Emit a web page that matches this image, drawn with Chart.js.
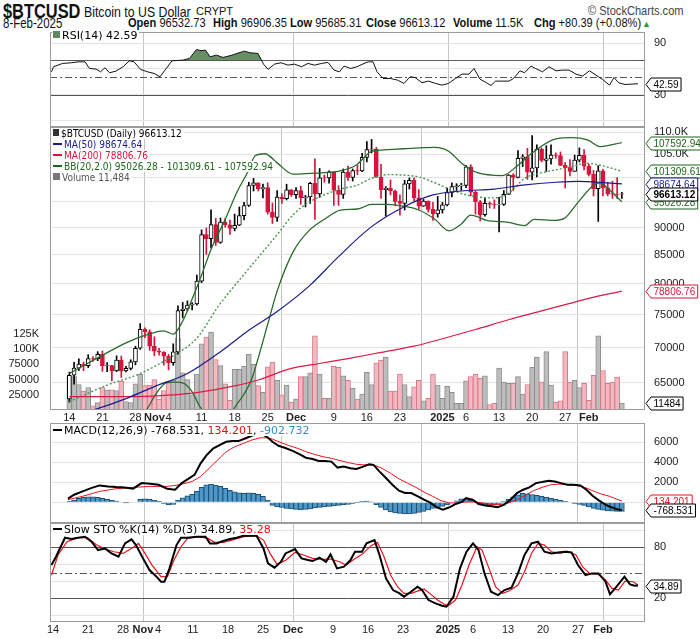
<!DOCTYPE html>
<html>
<head>
<meta charset="utf-8">
<script src="https://cdn.jsdelivr.net/npm/chart.js@4.4.1/dist/chart.umd.min.js"></script>
<style>
body { margin: 0; background: #fff; width: 700px; height: 639px; position: relative; overflow: hidden; }
canvas { position: absolute; left: 0; }
.t { position: absolute; white-space: nowrap; font-family: "Liberation Sans", Arial, sans-serif; color: #111; transform: scaleX(0.82); transform-origin: 0 0; }
.r2 { top: 15px; font-size: 13.5px; }
.lg { position: absolute; left: 52px; white-space: nowrap; font-family: "DejaVu Sans", sans-serif; z-index: 5; }
.lg div { background: #fff; line-height: 11px; height: 11px; padding-right: 2px; width: max-content; }
.dash { display: inline-block; width: 9px; height: 2px; margin: 0 2px 3px 1px; vertical-align: middle; }
</style>
</head>
<body>

<div class="t" style="left:3px;top:0px;font-weight:bold;font-size:20px;">$BTCUSD</div>
<div class="t" style="left:84px;top:3px;font-size:15px;">Bitcoin to US Dollar</div>
<div class="t" style="left:196px;top:5px;font-size:11px;transform:none;">CRYPT</div>
<div class="t" style="left:588px;top:3px;font-size:13.5px;color:#444;">&copy; StockCharts.com</div>
<div class="t r2" style="left:3px;font-size:14px;">8-Feb-2025</div>
<div class="t r2" style="left:128px;"><b>Open</b> 96532.73</div>
<div class="t r2" style="left:213px;"><b>High</b> 96906.35</div>
<div class="t r2" style="left:290px;"><b>Low</b> 95685.31</div>
<div class="t r2" style="left:366px;"><b>Close</b> 96613.12</div>
<div class="t r2" style="left:453px;"><b>Volume</b> 11.5K</div>
<div class="t r2" style="left:534px;"><b>Chg</b> +80.39 (+0.08%)</div>
<div class="t" style="left:642px;top:19px;font-size:9px;color:#2a9a2a;transform:none;">&#9650;</div>

<canvas id="rsi" width="700" height="95" style="top:32px"></canvas>
<canvas id="main" width="700" height="297" style="top:127px"></canvas>
<canvas id="macd" width="700" height="100" style="top:423px"></canvas>
<canvas id="sto" width="700" height="116" style="top:523px"></canvas>

<div class="lg" style="top:30px;font-size:11px;"><div><span class="dash" style="background:#5f8a5f;width:7px;height:7px;"></span>RSI(14) 42.59</div></div>
<div class="lg" style="top:128px;font-size:10px;font-family:'DejaVu Sans Condensed','DejaVu Sans',sans-serif;">
  <div><span class="dash" style="background:#333;width:6px;height:7px;"></span>$BTCUSD (Daily) 96613.12</div>
  <div style="color:#1a1a8c"><span class="dash" style="background:#1a1a8c"></span>MA(50) 98674.64</div>
  <div style="color:#d8143c"><span class="dash" style="background:#d8143c"></span>MA(200) 78806.76</div>
  <div style="color:#1d661d"><span class="dash" style="background:#1d661d"></span>BB(20,2.0) 95026.28 - 101309.61 - 107592.94</div>
  <div style="color:#555"><span class="dash" style="background:#777;width:7px;height:7px;"></span>Volume 11,484</div>
</div>
<div class="lg" style="top:425px;font-size:11px;"><div><span class="dash" style="background:#000"></span>MACD(12,26,9) -768.531, <span style="color:#e01010">134.201</span>, <span style="color:#2f8fc8">-902.732</span></div></div>
<div class="lg" style="top:524px;font-size:11px;"><div><span class="dash" style="background:#000"></span>Slow STO %K(14) %D(3) 34.89, <span style="color:#e01010">35.28</span></div></div>

<script>
// x axis: day number, 0 = 14 Oct 2024 ... 117 = 8 Feb 2025
const dayTicks = [0, 7, 14, 18, 21, 28, 35, 42, 48, 56, 63, 70, 79, 84, 91, 98, 105, 110];
const dayTickLabels = ['14', '21', '28', 'Nov', '4', '11', '18', '25', 'Dec', '9', '16', '23', '2025', '6', '13', '20', '27', 'Feb'];
const monthStarts = [18, 48, 79, 110];

const opens = [62850,66050,67040,67610,67380,68400,68360,69000,67370,67400,
  66650,68180,66640,67000,67920,69900,72720,72340,70200,69480,
  69330,68740,67800,69360,75640,75900,76540,76700,80470,88700,
  87950,90580,87250,91070,90560,89850,90460,92310,94290,98320,
  98900,97690,97900,93000,91940,95960,95650,97460,96450,97280,
  95860,96000,98770,96600,99920,99880,101170,97360,96490,101130,
  100000,101460,101370,104300,106030,106140,100040,97490,97760,97200,
  95100,94680,98670,99400,95800,94160,95160,93530,92640,93430,
  94420,96890,98110,98240,98350,102230,96950,95040,92480,94700,
  94560,94490,94520,96530,100500,99990,104080,104400,101090,102020,
  106140,103650,103960,104820,104710,102580,102080,101300,103700,104730,
  102400,100650,97690,101400,97870,96620,96560,96532.73];
const highs = [66480,67880,68380,67900,68970,68680,69400,69500,67830,67450,
  68800,68750,67300,68230,70200,73600,72960,72660,71600,69900,
  69400,69000,70550,76400,76950,77200,76930,81500,89600,89950,
  93450,91800,91850,91750,91450,92600,94000,94900,99000,99800,
  98900,98600,98900,94800,97300,96600,98600,97500,97900,98200,
  96300,99000,104000,101900,100500,101400,101200,98300,101800,102400,
  101800,102600,105200,107800,108300,106500,102800,98100,99500,97400,
  96400,99400,99900,99900,97500,95500,95200,94900,96100,94900,
  97800,98900,98700,98800,102500,102700,97200,95300,95800,95000,
  95400,95900,97300,100600,100800,105800,104900,106300,109200,107100,
  106400,106900,107100,105300,105500,103200,103800,104800,106400,106000,
  102800,101500,102500,101700,99000,99200,100000,96906.35];
const lows = [62420,64820,66700,66680,67120,68000,68100,66600,66560,65260,
  66540,65750,66520,66800,67500,69730,71450,69600,68800,68900,
  67460,66800,67450,69050,74500,75600,75760,76500,80200,85100,
  86250,86700,87100,90100,88750,89400,90400,91500,94100,97200,
  97200,95800,92600,90800,91200,94700,95400,96100,95700,94500,
  94000,94700,91600,95900,99000,98800,94300,94300,95700,99400,
  99250,100600,101200,103300,105300,100000,95700,92200,96400,94200,
  92400,93400,97600,95200,93500,94100,93000,91400,92000,92800,
  94200,96000,97300,97300,97900,96200,92600,91300,92200,93800,
  93700,89200,94300,96500,97300,99900,102300,99600,99500,100100,
  103300,101300,102800,104100,102500,97800,100300,101300,103300,101600,
  100300,96200,91200,96200,96200,95700,95700,95685.31];
const closes = [66050,67040,67610,67380,68400,68360,69000,67370,67400,66650,
  68180,66640,67000,67920,69900,72720,72340,70200,69480,69330,
  68740,67800,69360,75640,75900,76540,76700,80470,88700,87950,
  90580,87250,91070,90560,89850,90460,92310,94290,98320,98900,
  97690,97900,93000,91940,95960,95650,97460,96450,97280,95860,
  96000,98770,96600,99920,99880,101170,97360,96490,101130,100000,
  101460,101370,104300,106030,106140,100040,97490,97760,97200,95100,
  94680,98670,99400,95800,94160,95160,93530,92640,93430,94420,
  96890,98110,98240,98350,102230,96950,95040,92480,94700,94560,
  94490,94520,96530,100500,99990,104080,104400,101090,102020,106140,
  103650,103960,104820,104710,102580,102080,101300,103700,104730,102400,
  100650,97690,101400,97870,96620,96560,96530,96613.12];
const volumes = [55000,55000,42000,31000,37000,7000,12000,37000,33000,33000,
  32000,47000,14000,12000,43000,59000,40000,41000,50000,18000,
  32000,47000,49000,118000,61000,50000,25000,59000,109000,120000,
  128000,83000,73000,43000,16000,67000,67000,72000,92000,75000,
  40000,29000,71000,79000,49000,25000,41000,13000,18000,55000,
  55000,61000,122000,59000,19000,19000,72000,70000,56000,49000,
  36000,18000,26000,62000,42000,77000,82000,87000,31000,31000,
  59000,42000,22000,38000,49000,15000,19000,59000,41000,19000,
  39000,29000,11000,11000,48000,55000,59000,52000,56000,9000,
  11000,69000,46000,44000,44000,55000,26000,42000,70000,87000,
  46000,96000,41000,13000,15000,96000,46000,49000,37000,44000,
  16000,57000,122000,65000,44000,46000,54000,11484];

// overlays (day, value)
const ma50Days = [0, 5, 12, 18, 25, 32, 38, 44, 51, 57, 64, 71, 77, 83, 90, 96, 103, 108, 112, 117];
const ma50Vals = [60600, 61400, 62900, 64500, 66300, 69400, 72600, 75500, 79800, 84700, 90200, 94100, 96400, 97200, 97600, 98400, 99000, 99200, 99000, 98674.64];
const ma200Days = [0, 16, 22, 27, 35, 40, 47, 53, 59, 66, 73, 79, 86, 93, 100, 106, 110, 117];
const ma200Vals = [63150, 63200, 63400, 63700, 64600, 65400, 67000, 67700, 68400, 69300, 70200, 71300, 72700, 74200, 75600, 76800, 77600, 78806.76];
const bbUpDays = [0, 6, 12, 16, 20, 22, 24, 26, 28, 30, 33, 35.5, 37.7, 39.4, 41.4, 44, 47.4, 50, 54, 57.4, 60.7, 64, 67.4, 70.7, 77.4, 80.4, 83, 86.4, 91.7, 95, 98.4, 103, 106.4, 109.7, 112.4, 117];
const bbUpVals = [66300, 68500, 70700, 71800, 72500, 72000, 74000, 77500, 81500, 86000, 91600, 97000, 101000, 104700, 105100, 103100, 100700, 100800, 101000, 101400, 102600, 105600, 106000, 106200, 106500, 105600, 103100, 101000, 100400, 102600, 105600, 108400, 108700, 108200, 106700, 107592.94];
const bbMidDays = [0, 8, 15, 21.7, 27, 31.7, 37.4, 44, 47.4, 50.7, 57.4, 60.7, 64, 67.4, 70.7, 74, 77.4, 80.4, 83, 86.4, 89.7, 93, 96.4, 99.7, 103, 106.4, 109.7, 112.4, 117];
const bbMidVals = [62500, 64700, 66300, 68700, 71400, 76500, 82000, 88700, 92500, 94900, 97600, 98300, 99800, 100600, 100500, 100100, 98900, 97600, 96700, 96000, 95800, 96700, 99800, 100900, 101600, 102300, 103000, 102600, 101309.61];
const bbLoDays = [0, 8, 14, 16.4, 18, 20.5, 22.4, 24, 26, 27.5, 28.5, 31, 34.7, 37, 38.6, 40, 42, 44, 47.4, 50.7, 54, 57.4, 61, 64, 67.4, 71, 74, 77.4, 80.4, 83, 85, 88.4, 93, 96.4, 98.4, 103, 105, 107.7, 111, 112.4, 113.7, 117];
const bbLoVals = [57500, 58500, 60300, 61500, 63200, 65000, 65100, 65000, 63800, 62000, 61000, 56000, 61400, 63500, 65500, 68500, 73500, 78800, 85600, 89400, 91600, 93400, 93600, 94500, 94500, 94100, 93400, 91600, 89400, 90700, 92400, 91400, 91000, 90400, 91600, 91400, 91900, 94900, 98400, 98900, 98000, 95026.28];

const rsiDays = [-0.3, 0.1, 1.9, 3.7, 5, 6.4, 7.3, 8.6, 9.5, 10.4, 11.3, 12.6, 14, 15.3, 16.2, 17.5, 18.9, 20.2, 21.4, 22.4, 23.8, 26, 27.3, 28.7, 29.6, 30.5, 31.4, 32.7, 34, 35.8, 37.2, 38.3, 39.4, 41, 42.1, 43, 44.3, 45.6, 47, 48.3, 49.7, 51, 52.3, 53.7, 55, 56.2, 57.3, 58.2, 59.5, 60.8, 62.2, 63.1, 64, 64.8, 66, 67.5, 68.9, 70.2, 71.4, 72.4, 73.8, 75.1, 76.5, 77.8, 79.1, 80.5, 81.8, 83.2, 84.2, 85.4, 86.7, 87.6, 88.5, 91.2, 92.1, 93.4, 94.3, 95.6, 96.5, 97.9, 99.2, 100.6, 101.9, 103.2, 104.6, 105.9, 107.3, 108.6, 109.9, 111.3, 112.2, 113.1, 114.4, 117];
const rsiVals = [56.6, 62.5, 66.4, 67.2, 68.3, 68.3, 60.5, 59.8, 56.6, 61.3, 55.5, 57.4, 62.5, 69.5, 68.3, 59.4, 56.6, 54.7, 50.8, 58.6, 69.5, 70.3, 72.2, 82.8, 81.2, 82, 74.2, 76.1, 73.4, 76.1, 78.9, 80.8, 78.9, 78.1, 65.6, 59.4, 65.6, 67.2, 64.4, 65.6, 62.5, 66.4, 64.4, 66.4, 67.6, 58.6, 56.6, 63.3, 60.5, 62.5, 66.4, 68.3, 68.3, 56.6, 48.8, 48.8, 46.9, 43, 50.8, 50, 43.8, 45.7, 43, 41, 43, 48.8, 53.9, 53.9, 60.5, 48, 43.8, 40.6, 45.7, 45.7, 48.8, 57.8, 55.5, 63.3, 60.5, 56.6, 62.5, 57.8, 58.6, 58.6, 53.9, 51.6, 57.8, 52.7, 47.7, 41, 50, 43.8, 41.8, 42.59];

const macdDays = [-0.3, 1, 2.8, 4.6, 6.4, 8.2, 9.9, 11.7, 13.5, 15.3, 17.1, 18.9, 20.7, 22.4, 23.8, 25.1, 26.5, 27.8, 29.1, 30.5, 31.8, 33.2, 34.5, 35.8, 37.2, 38.1, 39.4, 40.7, 42.1, 43, 44.3, 45.6, 47.4, 48.8, 50.1, 51.5, 52.8, 54.1, 55.5, 56.8, 58.1, 59.5, 60.8, 62.2, 63.5, 64.4, 65.7, 67.1, 68.4, 69.8, 71.1, 72.4, 73.8, 75.1, 76.5, 77.8, 79.1, 80.5, 81.8, 83.1, 84, 85.4, 86.7, 88.1, 89.4, 90.7, 92.1, 93.4, 94.8, 96.1, 97.4, 98.8, 100.1, 101.5, 102.8, 104.1, 105.5, 106.8, 108.2, 109.5, 110.8, 112.2, 113.5, 114.8, 116.2, 117];
const macdVals = [364, 760, 1090, 1420, 1690, 1590, 1520, 1490, 1360, 1920, 1850, 1750, 1360, 1260, 1920, 2310, 2740, 3900, 4730, 5390, 5720, 6050, 6120, 6120, 6380, 6550, 6800, 6900, 6450, 6050, 5650, 5450, 5120, 4790, 4460, 4330, 4130, 4130, 4070, 3470, 3570, 3400, 3340, 3570, 3800, 3740, 3070, 2410, 1750, 1160, 930, 930, 600, 260, -66, -500, -730, -500, -165, 33, 430, 260, -165, -330, -400, -500, -230, 260, 930, 1260, 1490, 1920, 2020, 2150, 2080, 1920, 1750, 1750, 1690, 1260, 660, 165, -230, -500, -730, -768.531];
const signalDays = [-0.3, 2.8, 6.4, 9.9, 13.5, 17.1, 20.7, 23.3, 26, 27.8, 29.6, 31.4, 33.2, 35, 36.8, 38.6, 40.4, 41.7, 43, 44.8, 46.6, 48.4, 50.1, 51.9, 53.7, 55.5, 57.3, 59.1, 60.8, 62.6, 64.4, 66.2, 68, 69.8, 71.6, 73.4, 75.1, 76.9, 78.7, 80.5, 82.3, 84, 85.8, 87.6, 89.4, 91.2, 93, 94.8, 96.5, 98.3, 100.1, 101.9, 103.7, 105.5, 107.3, 109.1, 110.8, 112.6, 114.4, 116.2, 117];
const signalVals = [264, 600, 1090, 1360, 1490, 1590, 1590, 1750, 2080, 2580, 3400, 4230, 5060, 5550, 5880, 6220, 6450, 6450, 6310, 5980, 5650, 5390, 5060, 4790, 4560, 4400, 4170, 3970, 3800, 3740, 3740, 3400, 2910, 2350, 1920, 1490, 1020, 600, 165, -66, -66, 33, 33, -66, -230, -230, -66, 264, 690, 1160, 1490, 1750, 1820, 1750, 1690, 1490, 1160, 830, 600, 264, 134.201];
const histVals = [100, 200, 400, 500, 550, 550, 500, 400, 300, 200,
  120, 50, -20, -50, 50, 300, 350, 300, 200, 100,
  -100, -250, -200, 200, 450, 650, 800, 1100, 1500, 1750,
  1800, 1700, 1600, 1400, 1200, 1050, 950, 900, 950, 900,
  800, 600, 200, -300, -450, -500, -600, -650, -700, -750,
  -700, -650, -550, -500, -450, -400, -350, -300, -250, -200,
  -100, -30, 80, 120, 30, -250, -500, -750, -950, -1050,
  -1100, -1150, -1150, -1100, -1000, -900, -750, -600, -500, -400,
  -250, -50, 150, 350, 350, 200, -50, -200, -300, -300,
  -250, -100, 80, 300, 550, 750, 900, 850, 780, 700,
  600, 500, 400, 300, 200, 100, 0, -100, -200, -300,
  -450, -600, -700, -780, -850, -880, -900, -902.732];

const kDays = [-0.3, 0.6, 2.4, 3.7, 5, 6.4, 7.7, 9, 10.4, 11.7, 13.1, 14.4, 15.7, 16.6, 18, 19.3, 20.7, 21.6, 22.3, 23.3, 24.7, 25.6, 26.9, 28.7, 30.5, 31.4, 32.7, 34, 35.4, 36.7, 38.1, 39.4, 40.7, 42.1, 43, 44.3, 45.6, 46.5, 48.4, 49.7, 51, 51.9, 53.3, 54.6, 55.5, 56.8, 58.2, 59.5, 60.4, 61.8, 62.7, 64.3, 65.3, 66.6, 68, 69.3, 70.2, 71.6, 72.9, 73.8, 75.1, 76.5, 77.8, 78.7, 80.1, 81.4, 82.7, 84, 85.1, 86.3, 87.6, 89, 90.3, 91.7, 93, 94.3, 95.7, 97, 98.3, 99.7, 101, 102.4, 103.7, 105, 106.5, 107.8, 109.1, 110.5, 111.4, 112.7, 114.3, 115.4, 116.3, 117];
const kVals = [59, 68.8, 91.2, 89.6, 91.2, 92.4, 86.5, 76.7, 78.6, 72.7, 68.8, 84.5, 89.2, 82.5, 66.9, 53.1, 45.3, 39.4, 39.4, 55.1, 82.5, 91.2, 91.2, 92.4, 92.4, 84.5, 84.5, 87.3, 89.6, 91.2, 93.5, 93.5, 93.5, 78.6, 61, 55.9, 62.9, 72.7, 77.8, 66.9, 64.9, 63.7, 67.6, 62.9, 71.6, 55.1, 57.1, 64.9, 74.7, 74.7, 84.5, 88.4, 70.8, 43.3, 29.6, 25.7, 21.8, 27.6, 33.5, 29.6, 17.8, 13.9, 11.2, 10, 21.8, 55.1, 74.7, 84.5, 76.7, 49.2, 27.6, 23.7, 29.6, 32.4, 49.2, 70.8, 84.5, 86.5, 74.7, 72.7, 73.9, 74.7, 73.9, 59, 47.3, 49.2, 49.2, 39.4, 24.5, 33.5, 45.3, 36.3, 34.7, 34.89];
const dDays = [-0.3, 1, 2.8, 5, 6.9, 8.6, 10.4, 12.2, 14, 15.7, 17.1, 18.4, 19.8, 21.6, 22.9, 24.2, 25.6, 26.9, 29.1, 31, 32.3, 34, 35.8, 38.1, 40.7, 42.1, 43.4, 44.8, 46.6, 48.4, 50.1, 51.9, 53.7, 55.5, 57.3, 58.6, 60, 61.8, 63.6, 64.9, 66.2, 67.5, 68.9, 70.2, 71.6, 72.9, 74.2, 75.6, 76.9, 78.3, 79.1, 80.5, 81.8, 83.2, 84.8, 85.8, 87.2, 88.5, 89.9, 91.2, 93, 94.3, 95.7, 97, 98.3, 99.7, 101.5, 102.8, 104.6, 105.9, 107.3, 109.1, 110.5, 111.8, 113.1, 114.4, 116.1, 117];
const dVals = [47.3, 70.8, 86.5, 91.2, 91.2, 83.3, 77.8, 74.7, 72.7, 78.6, 84.5, 72.7, 59, 45.3, 45.3, 64.9, 80.6, 90.4, 92.4, 90.4, 85.7, 85.7, 88.4, 92.4, 93.5, 88.4, 72.7, 59.8, 64.9, 73.9, 70.8, 66.9, 65.7, 66.1, 62.9, 59, 64.9, 71.6, 81.8, 85.7, 68.8, 47.3, 33.5, 25.7, 25.7, 28.4, 30.8, 24.5, 17.8, 12.7, 11.2, 17.8, 35.5, 59, 80.6, 76.7, 55.1, 33.5, 25.7, 28.4, 35.5, 51.2, 72.7, 84.5, 82.5, 74.7, 72.7, 75.5, 70.8, 57.1, 49.2, 48, 41.4, 31.6, 29.6, 40.2, 39.4, 35.28];

const priceTicks = [65000, 67500, 70000, 72500, 75000, 77500, 80000, 82500, 85000, 87500, 90000, 92500, 95000, 97500, 100000, 102500, 105000, 107500, 110000];
const volTicks = [25000, 50000, 75000, 100000, 125000];
const oscTicks = [0, 10, 20, 30, 40, 50, 60, 70, 80, 90, 100];
const macdTicks = [-2000, 0, 2000, 4000, 6000];

const RED = '#d6143c';
const pts = (xs, ys) => xs.map((x, i) => ({ x: x, y: ys[i] }));
const days = closes.map((c, i) => i);
const upDay = i => closes[i] >= (i ? closes[i - 1] : opens[0]);

function xAxis(labels, h) {
  return {
    type: 'linear', min: -0.6, max: 118.4,
    afterBuildTicks: s => { s.ticks = dayTicks.map(v => ({ value: v })); },
    afterFit: s => { s.height = h; s.paddingLeft = 0; s.paddingRight = 0; },
    grid: { color: c => (c.tick && monthStarts.includes(c.tick.value)) ? '#c4c4c4' : 'rgba(0,0,0,0)', drawTicks: false },
    border: { display: false },
    ticks: {
      display: labels, autoSkip: false, maxRotation: 0, minRotation: 0, padding: 1, color: '#222',
      font: c => ({ family: 'Liberation Sans', size: 11, weight: (c.tick && monthStarts.includes(c.tick.value)) ? 'bold' : 'normal' }),
      callback: (v, i) => dayTickLabels[i]
    }
  };
}
function yAxis(min, max, ticks, label, type) {
  return {
    type: type || 'linear', position: 'right', min: min, max: max,
    afterBuildTicks: s => { s.ticks = ticks.map(v => ({ value: v })); },
    afterFit: s => { s.width = 55; s.paddingTop = 0; s.paddingBottom = 0; },
    grid: { color: '#e3e3e3', drawTicks: false },
    border: { display: false },
    ticks: { padding: 9, color: '#222', font: { family: 'Liberation Sans', size: 11 }, callback: label }
  };
}
const frame = {
  id: 'frame',
  afterDatasetsDraw(ch) {
    const a = ch.chartArea, c = ch.ctx;
    c.save();
    c.strokeStyle = '#9c9c9c'; c.lineWidth = 1;
    c.strokeRect(Math.round(a.left) + 0.5, Math.round(a.top) + 0.5, Math.round(a.width) - 1, Math.round(a.height) - 1);
    c.restore();
  }
};
function levels(list) {
  return {
    id: 'levels',
    beforeDatasetsDraw(ch) {
      const a = ch.chartArea, c = ch.ctx, y = ch.scales.y;
      c.save();
      list.forEach(l => {
        const py = Math.round(y.getPixelForValue(l[0])) + 0.5;
        c.strokeStyle = '#555'; c.lineWidth = 1; c.setLineDash(l[1] ? [7, 3, 2, 3] : []);
        c.beginPath(); c.moveTo(a.left, py); c.lineTo(a.right, py); c.stroke();
      });
      c.restore();
    }
  };
}
function tags(list) {
  return {
    id: 'tags',
    afterDraw(ch) {
      const c = ch.ctx, x = ch.chartArea.right + 1;
      list.forEach(t => {
        const y = Math.round(ch.scales[t.axis].getPixelForValue(t.v)) + 0.5;
        c.save();
        c.font = (t.bold ? 'bold ' : '') + '10px "Liberation Sans", sans-serif';
        const w = c.measureText(t.text).width + 5;
        c.beginPath();
        c.moveTo(x, y); c.lineTo(x + 5, y - 6.5); c.lineTo(x + 5 + w, y - 6.5);
        c.lineTo(x + 5 + w, y + 6.5); c.lineTo(x + 5, y + 6.5); c.closePath();
        c.fillStyle = '#fff'; c.fill();
        c.strokeStyle = t.color; c.lineWidth = 1; c.stroke();
        c.fillStyle = t.color; c.textBaseline = 'middle';
        c.fillText(t.text, x + 7.5, y + 0.5);
        c.restore();
      });
    }
  };
}
const base = { responsive: false, animation: false, events: [], plugins: { legend: { display: false }, tooltip: { enabled: false } } };
function line(xs, ys, color, width, extra) {
  return Object.assign({ type: 'line', data: pts(xs, ys), borderColor: color, borderWidth: width, pointRadius: 0, order: 0 }, extra || {});
}

// RSI
new Chart(document.getElementById('rsi'), {
  data: { datasets: [line(rsiDays, rsiVals, '#111', 1, { fill: { target: { value: 70 }, above: '#668f66', below: 'rgba(0,0,0,0)' } })] },
  options: Object.assign({}, base, {
    layout: { padding: { left: 50 } },
    scales: { x: xAxis(false, 0), y: yAxis(-8, 103.2, oscTicks, v => [10, 30, 50, 70, 90].includes(v) ? v : '') }
  }),
  plugins: [levels([[70], [30], [50, true]]), frame, tags([{ axis: 'y', v: 42.59, text: '42.59', color: '#000' }])]
});

// price + volume
const mono = { cubicInterpolationMode: 'monotone' };
new Chart(document.getElementById('main'), {
  data: { datasets: [
    line(ma50Days, ma50Vals, '#1a1a8c', 1.2, mono),
    line(ma200Days, ma200Vals, '#dc1a44', 1.2, mono),
    line(bbUpDays, bbUpVals, '#2a6a2a', 1.3, mono),
    line(bbLoDays, bbLoVals, '#2a6a2a', 1.3, mono),
    line(bbMidDays, bbMidVals, '#4f944f', 1.4, Object.assign({ borderDash: [2, 2] }, mono)),
    { type: 'bar', order: 1, grouped: false, barThickness: 4, borderWidth: 1, borderSkipped: false,
      data: days.map(i => ({ x: i, y: [opens[i], closes[i]] })),
      backgroundColor: days.map(i => closes[i] >= opens[i] ? '#fff' : RED),
      borderColor: days.map(i => closes[i] >= opens[i] ? '#000' : RED) },
    { type: 'bar', order: 2, grouped: false, barThickness: 1,
      data: days.map(i => ({ x: i, y: [lows[i], highs[i]] })),
      backgroundColor: days.map(i => closes[i] >= opens[i] ? '#000' : RED) },
    { type: 'bar', order: 3, grouped: false, yAxisID: 'vol', barThickness: 5, borderWidth: 1,
      data: days.map(i => ({ x: i, y: volumes[i] })),
      backgroundColor: days.map(i => upDay(i) ? '#bdbdbd' : '#f2b8c2'),
      borderColor: days.map(i => upDay(i) ? '#8e8e8e' : '#d77a88') }
  ] },
  options: Object.assign({}, base, {
    scales: {
      x: xAxis(true, 14),
      y: yAxis(61410, 111160, priceTicks, v => v >= 100000 ? (v / 1000).toFixed(1) + 'K' : v, 'logarithmic'),
      vol: {
        type: 'linear', position: 'left', min: 0, max: 465460,
        afterBuildTicks: s => { s.ticks = volTicks.map(v => ({ value: v })); },
        afterFit: s => { s.width = 50; s.paddingTop = 0; s.paddingBottom = 0; },
        grid: { display: false }, border: { display: false },
        ticks: { padding: 3, color: '#222', font: { family: 'Liberation Sans', size: 11 }, callback: v => v >= 100000 ? (v / 1000) + 'K' : v }
      }
    }
  }),
  plugins: [frame, tags([
    { axis: 'y', v: 107592.94, text: '107592.94', color: '#1d661d' },
    { axis: 'y', v: 101309.61, text: '101309.61', color: '#1d661d' },
    { axis: 'y', v: 98674.64, text: '98674.64', color: '#1a1a8c' },
    { axis: 'y', v: 95026.28, text: '95026.28', color: '#1d661d' },
    { axis: 'y', v: 96613.12, text: '96613.12', color: '#000', bold: true },
    { axis: 'y', v: 78806.76, text: '78806.76', color: '#d8143c' },
    { axis: 'vol', v: 11484, text: '11484', color: '#000' }
  ])]
});

// MACD
new Chart(document.getElementById('macd'), {
  data: { datasets: [
    line(macdDays, macdVals, '#000', 2),
    line(signalDays, signalVals, '#e8141e', 1),
    { type: 'bar', order: 2, grouped: false, barThickness: 5, borderWidth: 1,
      data: days.map(i => ({ x: i, y: histVals[i] })), backgroundColor: '#4d97c9', borderColor: '#1d4f73' }
  ] },
  options: Object.assign({}, base, {
    layout: { padding: { left: 50 } },
    scales: { x: xAxis(false, 0), y: yAxis(-2070, 7930, macdTicks, v => v > 0 ? v : '') }
  }),
  plugins: [frame, tags([
    { axis: 'y', v: 134.201, text: '134.201', color: '#e8141e' },
    { axis: 'y', v: -768.531, text: '-768.531', color: '#000' }
  ])]
});

// Slow stochastics
new Chart(document.getElementById('sto'), {
  data: { datasets: [
    line(kDays, kVals, '#000', 2),
    line(dDays, dVals, '#e8141e', 1.2)
  ] },
  options: Object.assign({}, base, {
    layout: { padding: { left: 50 } },
    scales: { x: xAxis(true, 17), y: yAxis(-8, 108.5, oscTicks, v => [20, 50, 80].includes(v) ? v : '') }
  }),
  plugins: [levels([[80], [20], [50, true]]), frame, tags([{ axis: 'y', v: 34.89, text: '34.89', color: '#000' }])]
});
</script>
</body>
</html>
